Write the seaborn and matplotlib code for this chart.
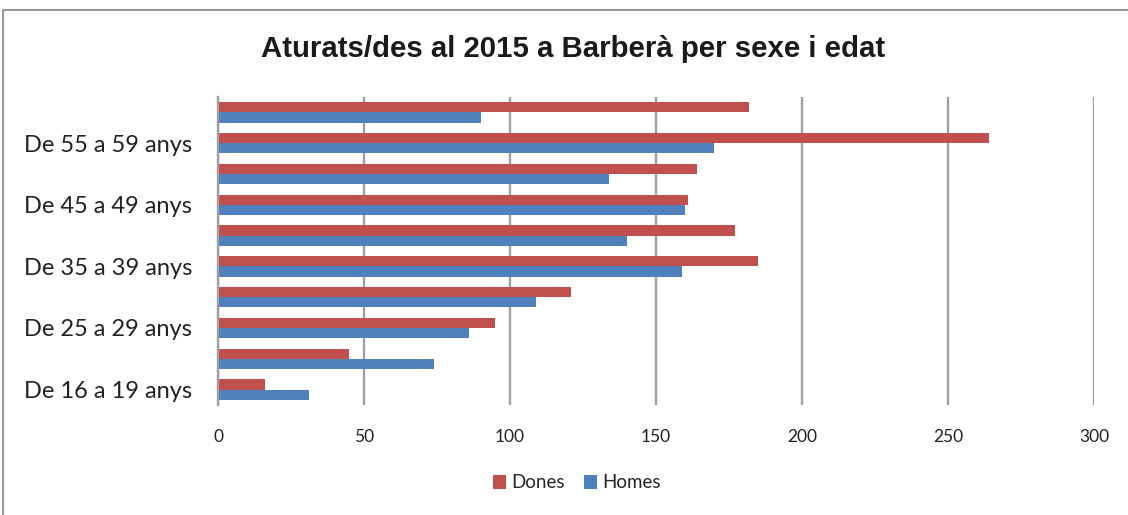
import numpy as np
import pandas as pd
import matplotlib
matplotlib.use("Agg")
import matplotlib.pyplot as plt
import seaborn as sns
from matplotlib.patches import Rectangle

# Data (bottom to top as in the reference)
categories = ["De 16 a 19 anys", "De 20 a 24 anys", "De 25 a 29 anys", "De 30 a 34 anys",
              "De 35 a 39 anys", "De 40 a 44 anys", "De 45 a 49 anys", "De 50 a 54 anys",
              "De 55 a 59 anys", "De 60 a 64 anys"]
dones = [16, 45, 95, 121, 185, 177, 161, 164, 264, 182]
homes = [31, 74, 86, 109, 159, 140, 160, 134, 170, 90]
series = ["Dones", "Homes"]
shown_labels = ["De 16 a 19 anys", "De 25 a 29 anys", "De 35 a 39 anys",
                "De 45 a 49 anys", "De 55 a 59 anys"]
xticks = [0, 50, 100, 150, 200, 250, 300]
title = "Aturats/des al 2015 a Barberà per sexe i edat"

sns.set_style("white")
plt.rcParams['font.family'] = ['Lato', 'DejaVu Sans']

order = categories[::-1]  # top category first
df = pd.DataFrame({
    "cat": categories * 2,
    "sexe": ["Dones"] * len(categories) + ["Homes"] * len(categories),
    "val": dones + homes,
})

fig = plt.figure(figsize=(11.28, 5.15), dpi=100)
ax = fig.add_axes([218/1128, 1 - 405/515, (1094-218)/1128, (405-97)/515])

palette = {"Dones": "#C0504D", "Homes": "#4F81BD"}
sns.barplot(data=df, y="cat", x="val", hue="sexe", order=order, hue_order=series,
            palette=palette, orient="h", width=0.66, ax=ax, saturation=1,
            edgecolor="none", legend=True)

ax.set_xlim(0, 300)
ax.set_xticks(xticks)
ax.set_xticklabels([str(t) for t in xticks], fontsize=12.5, color="#222222")
ax.set_yticklabels([c if c in shown_labels else "" for c in order], fontsize=17, color="#222222")
ax.set_xlabel("")
ax.set_ylabel("")
ax.set_ylim(len(categories) - 0.5, -0.5)

ax.grid(axis="x", color="#a0a0a0", linewidth=1.7)
ax.set_axisbelow(True)
for s in ["top", "right", "bottom"]:
    ax.spines[s].set_visible(False)
ax.spines["left"].set_color("#a0a0a0")
ax.spines["left"].set_linewidth(1.7)
ax.tick_params(axis="y", length=0, pad=18.5)
ax.tick_params(axis="x", length=0, pad=17)

handles, labels = ax.get_legend_handles_labels()
ax.get_legend().remove()
fig.legend(handles, labels, loc="center", bbox_to_anchor=(577/1128, 1 - 483/515),
           ncol=2, frameon=False, fontsize=13.5, handlelength=0.7, handleheight=0.7,
           handletextpad=0.3, columnspacing=1.0)

fig.text(573/1128, 1 - 49/515, title, ha="center", va="center", fontsize=21.2,
         fontweight="bold", family=["Liberation Sans", "DejaVu Sans"], color="#1a1a1a")

# outer chart border (top and left visible)
fig.patches.append(Rectangle((3/1128, -0.05), 1.2, 1 - 10/515 + 0.05, transform=fig.transFigure,
                             fill=False, edgecolor="#9a9a9a", linewidth=1.5))

fig.savefig("out.png", dpi=100, facecolor="white")
